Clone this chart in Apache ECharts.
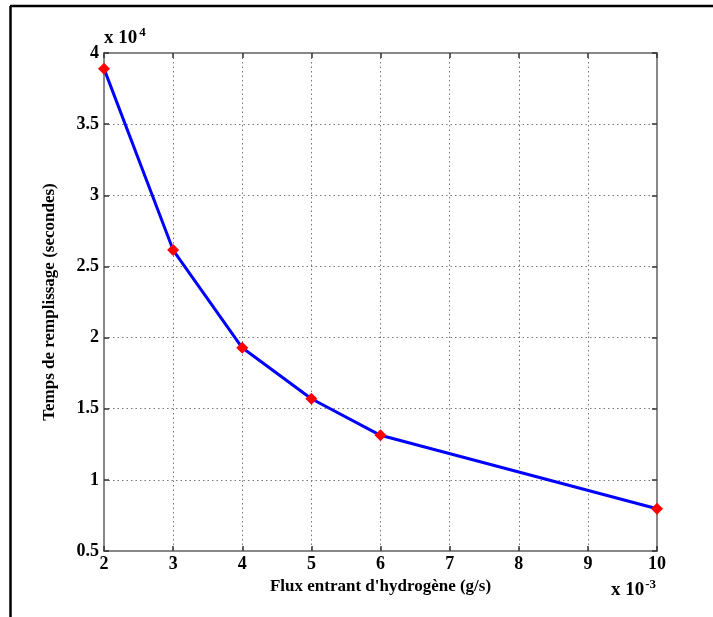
<!DOCTYPE html>
<html><head><meta charset="utf-8">
<script src="https://cdn.jsdelivr.net/npm/echarts@6/dist/echarts.min.js"></script>
<style>html,body{margin:0;padding:0;background:#fff}#c{width:713px;height:617px}</style>
</head><body><div id="c"></div>
<script>
const xValues = [2, 3, 4, 5, 6, 10];
const yValues = [3.89, 2.615, 1.928, 1.57, 1.313, 0.797];
const xTicks = {min: 2, max: 10, interval: 1};
const yTicks = {min: 0.5, max: 4, interval: 0.5};
const xTitle = "Flux entrant d'hydrogène (g/s)";
const yTitle = "Temps de remplissage (secondes)";
const xExp = '-3';
const yExp = '4';

const font = 'Liberation Serif';
const chart = echarts.init(document.getElementById('c'));
const tickStyle = {show: true, inside: true, length: 5, lineStyle: {color: '#333', width: 1.5}};
const axisLineStyle = {show: true, lineStyle: {color: '#888', width: 2}};
const fmt = v => String(Math.round(v * 10) / 10);
chart.setOption({
  animation: false,
  grid: {left: 104, right: 56, top: 53, bottom: 66, containLabel: false},
  xAxis: [{
    type: 'value', min: xTicks.min, max: xTicks.max, interval: xTicks.interval,
    axisLine: axisLineStyle, axisTick: tickStyle,
    axisLabel: {color: '#000', fontFamily: font, fontWeight: 'bold', fontSize: 18, margin: 4, formatter: fmt},
    splitLine: {show: true, lineStyle: {type: [1.5, 3], color: '#777', width: 1}},
    name: xTitle, nameLocation: 'middle', nameGap: 21,
    nameTextStyle: {color: '#000', fontFamily: font, fontWeight: 'bold', fontSize: 17}
  }, {
    type: 'value', position: 'top', min: xTicks.min, max: xTicks.max, interval: xTicks.interval,
    axisLine: axisLineStyle, axisTick: tickStyle, axisLabel: {show: false}, splitLine: {show: false}
  }],
  yAxis: [{
    type: 'value', min: yTicks.min, max: yTicks.max, interval: yTicks.interval,
    axisLine: axisLineStyle, axisTick: tickStyle,
    axisLabel: {color: '#000', fontFamily: font, fontWeight: 'bold', fontSize: 18, margin: 5, formatter: fmt},
    splitLine: {show: true, lineStyle: {type: [1.5, 3], color: '#777', width: 1}},
    name: yTitle, nameLocation: 'middle', nameGap: 46, nameRotate: 90,
    nameTextStyle: {color: '#000', fontFamily: font, fontWeight: 'bold', fontSize: 17}
  }, {
    type: 'value', position: 'right', min: yTicks.min, max: yTicks.max, interval: yTicks.interval,
    axisLine: axisLineStyle, axisTick: tickStyle, axisLabel: {show: false}, splitLine: {show: false}
  }],
  graphic: [
    {type: 'line', shape: {x1: 10, y1: 6, x2: 713, y2: 6}, style: {stroke: '#000', lineWidth: 2.5}},
    {type: 'line', shape: {x1: 10.5, y1: 6, x2: 10.5, y2: 617}, style: {stroke: '#000', lineWidth: 2.5}},
    {type: 'text', left: 104, top: 26, style: {
      text: '{b|x 10}{s|' + yExp + '}', rich: {
        b: {fontFamily: font, fontWeight: 'bold', fontSize: 19, fill: '#000'},
        s: {fontFamily: font, fontWeight: 'bold', fontSize: 13, fill: '#000', padding: [0, 0, 12, 2]}
      }}},
    {type: 'text', left: 611, top: 578, style: {
      text: '{b|x 10}{s|' + xExp + '}', rich: {
        b: {fontFamily: font, fontWeight: 'bold', fontSize: 19, fill: '#000'},
        s: {fontFamily: font, fontWeight: 'bold', fontSize: 13, fill: '#000', padding: [0, 0, 12, 1]}
      }}}
  ],
  series: [{
    type: 'line', data: xValues.map((x, i) => [x, yValues[i]]),
    lineStyle: {color: '#0000ff', width: 3},
    itemStyle: {color: '#ff0000'},
    symbol: 'diamond', symbolSize: 12, showSymbol: true, z: 3
  }]
});
</script></body></html>
